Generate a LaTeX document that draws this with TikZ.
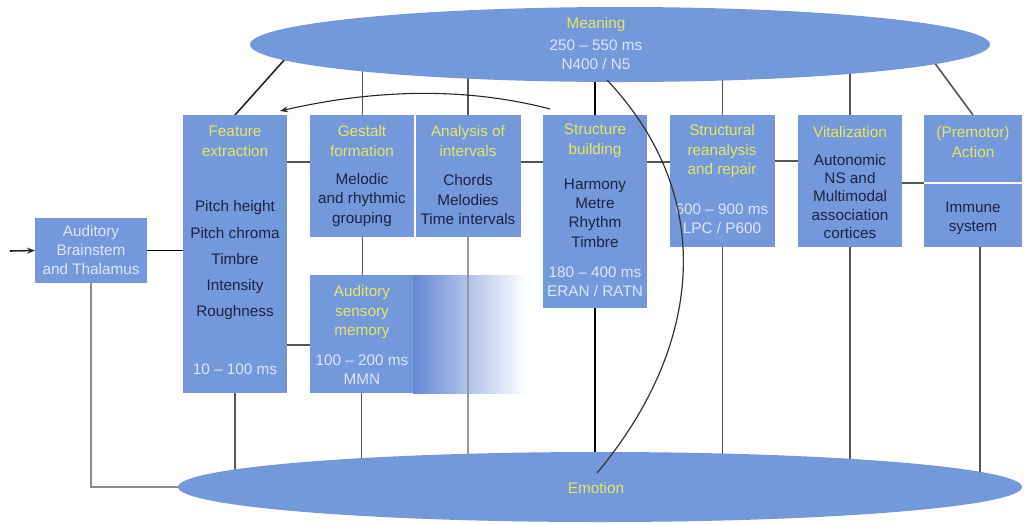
\documentclass[tikz,border=0pt]{standalone}
\usepackage{fontspec}
\setmainfont{Liberation Sans}
\usetikzlibrary{shapes.geometric,arrows.meta,calc}
\definecolor{boxblue}{HTML}{7399DB}
\definecolor{fadeblue}{HTML}{6689D3}
\definecolor{ttlyel}{HTML}{E6E862}
\definecolor{dktext}{HTML}{1A2444}
\definecolor{lttext}{HTML}{DCE6F6}
\definecolor{lngray}{HTML}{555555}
\newcommand{\fsx}[1]{\fontsize{15.3}{#1}\selectfont}
\pgfdeclarelayer{back}
\pgfdeclarelayer{front}
\pgfsetlayers{back,main,front}
\begin{document}
\begin{tikzpicture}[x=1pt,y=-1pt,
  blk/.style={fill=boxblue, draw=none, inner sep=0, outer sep=0, anchor=north west},
  ell/.style={ellipse, fill=boxblue, draw=none, inner sep=0, outer sep=0},
  txt/.style={align=center, inner sep=0, outer sep=0},
  ttl/.style={txt, text=ttlyel, font=\fsx{20}},
  dk/.style={txt, text=dktext, font=\fsx{19.5}},
  lt/.style={txt, text=lttext, font=\fsx{19}},
  ln/.style={draw=lngray, line width=1.6pt},
  lnb/.style={draw=black, line width=2.2pt},
  thinarrow/.style={draw=black!85, line width=1.1pt, -{Stealth[length=8pt,width=6pt]}}]
\useasboundingbox (0,0) rectangle (1024,523);

% ellipses
\node[ell, minimum width=740, minimum height=75] (mean) at (620,44.5) {};
\node[ell, minimum width=844, minimum height=70] (emo) at (600,487) {};

% boxes
\node[blk, minimum width=112, minimum height=65] (bs) at (35,218) {};
\node[blk, minimum width=104, minimum height=278] (fe) at (183,115) {};
\node[blk, minimum width=105, minimum height=122] (ge) at (310,115) {};
\node[blk, minimum width=106, minimum height=122] (an) at (415,115) {};
\node[blk, minimum width=104, minimum height=193] (sb) at (543,115) {};
\node[blk, minimum width=105, minimum height=132] (sr) at (670,115) {};
\node[blk, minimum width=104, minimum height=132] (vi) at (798,115) {};
\node[blk, minimum width=98, minimum height=132] (pm) at (924,115) {};
\node[blk, minimum width=103, minimum height=118] (asm) at (310,275) {};
\node[anchor=north west, inner sep=0, outer sep=0, minimum width=114, minimum height=118,
      left color=fadeblue, right color=white] (asmfade) at (413,275) {};
\draw[white, line width=1.2pt] (an.north west) -- (an.south west);
\draw[white, line width=1.5pt] (pm.west |- 0,183) -- (pm.east |- 0,183);

% connectors behind
\begin{pgfonlayer}{back}
  \coordinate (mfe) at (286,58);
  \coordinate (mpm) at (931,58);
  \draw[ln, draw=black!85] (fe.north) -- (mfe);
  \draw[ln] (ge.north) -- (ge.north |- mean.center);
  \draw[ln] (an.north) -- (an.north |- mean.center);
  \draw[lnb] (sb.north) -- (sb.north |- mean.center);
  \draw[ln] (sr.north) -- (sr.north |- mean.center);
  \draw[ln] (vi.north) -- (vi.north |- mean.center);
  \draw[ln] (pm.north) -- (mpm);
  \draw[ln] (fe.south) -- (fe.south |- emo.center);
  \draw[ln] (asm.south) -- (asm.south |- emo.center);
  \draw[lnb] (sb.south) -- (sb.south |- emo.center);
  \draw[ln] (sr.south) -- (sr.south |- emo.center);
  \draw[ln] (vi.south) -- (vi.south |- emo.center);
  \draw[ln] ($(pm.south)+(7,0)$) -- ($(pm.south |- emo.center)+(7,0)$);
  \draw[ln, draw=gray!90] (bs.south) |- (emo.west);
  \draw[lnb, line width=1.8pt] (bs.east) -- (fe.west |- bs.east);
  \draw[ln] (fe.east |- 0,162) -- (ge.west |- 0,162);
  \draw[ln] (fe.east |- 0,345) -- (asm.west |- 0,345);
  \draw[ln] (ge.south) -- (ge.south |- asm.north);
  \draw[ln] (an.east |- 0,162) -- (sb.west |- 0,162);
  \draw[ln] (sb.east |- 0,162) -- (sr.west |- 0,162);
  \draw[ln] (sr.east |- 0,161) -- (vi.west |- 0,161);
  \draw[ln] (vi.east |- 0,183) -- (pm.west |- 0,183);
\end{pgfonlayer}

\begin{pgfonlayer}{front}
  \draw[ln, draw=gray!80] (an.south) -- (an.south |- 0,455);
  \coordinate (arrstart) at (10,251);
  \draw[thinarrow, line width=1.6pt] (arrstart) -- (bs.west);
  \coordinate (fbstart) at (550,109);
  \coordinate (fbend) at (280,111);
  \draw[thinarrow] (fbstart) .. controls (470,88) and (380,88) .. (fbend);
  \coordinate (mc1) at (607,80);
  \coordinate (mc2) at (597,473);
  \draw[draw=black!80, line width=1.2pt] (mc1) .. controls (720,200) and (700,350) .. (mc2);
\end{pgfonlayer}

% texts
\node[lt, font=\fsx{19}] (bs-t) at (91,250) {Auditory\\Brainstem\\and Thalamus};

\node[ttl] (fe-t) at (235,141) {Feature\\extraction};
\node[dk, font=\fsx{26.25}] (fe-c) at (235,260.5) {Pitch height\\Pitch chroma\\Timbre\\Intensity\\Roughness};
\node[lt] (fe-m) at (235,369) {10 -- 100 ms};

\node[ttl] (ge-t) at (362,141) {Gestalt\\formation};
\node[dk] (ge-c) at (362,200) {Melodic\\and rhythmic\\grouping};

\node[ttl] (an-t) at (468,141) {Analysis of\\intervals};
\node[dk] (an-c) at (468,200) {Chords\\Melodies\\Time intervals};

\node[ttl] (sb-t) at (595,141) {Structure\\building};
\node[dk, font=\fsx{19.3}] (sb-c) at (595,213) {Harmony\\Metre\\Rhythm\\Timbre};
\node[lt] (sb-m) at (595,281.5) {180 -- 400 ms\\ERAN / RATN};

\node[ttl, font=\fsx{19.5}] (asm-t) at (362,312.5) {Auditory\\sensory\\memory};
\node[lt] (asm-m) at (362,369.5) {100 -- 200 ms\\MMN};

\node[ttl, font=\fsx{19.5}] (sr-t) at (722,151.5) {Structural\\reanalysis\\and repair};
\node[lt] (sr-m) at (722,218.5) {600 -- 900 ms\\LPC / P600};

\node[ttl] (vi-t) at (850,132) {Vitalization};
\node[dk, font=\fsx{18.3}] (vi-c) at (850,196.5) {Autonomic\\NS and\\Multimodal\\association\\cortices};

\node[ttl] (pm-t) at (973,142) {(Premotor)\\Action};
\node[dk] (pm-c) at (973,218.5) {Immune\\system};

\node[ttl] (mean-t) at (596,25) {Meaning};
\node[lt] (mean-m) at (596,54.5) {250 -- 550 ms\\N400 / N5};

\node[ttl] (emo-t) at (596,488) {Emotion};
\end{tikzpicture}
\end{document}
